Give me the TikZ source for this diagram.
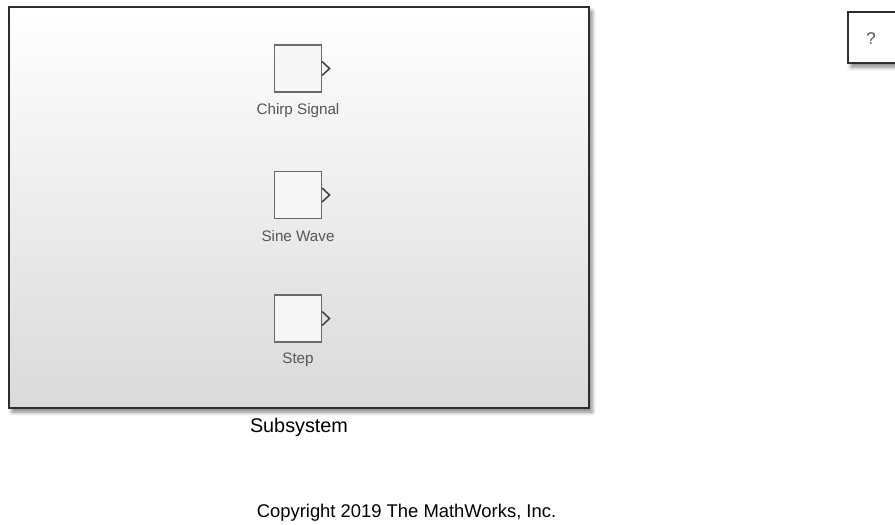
\documentclass[tikz,border=0pt]{standalone}
\usepackage{fontspec}
\setmainfont{Liberation Sans}
\usepackage{xcolor}
\usepackage{tikz}
\usetikzlibrary{shadows.blur}
\definecolor{cFrame}{RGB}{45,45,45}
\definecolor{cBlock}{RGB}{105,105,105}
\definecolor{cPort}{RGB}{70,70,70}
\definecolor{cLabel}{RGB}{85,85,85}
\definecolor{cBottom}{RGB}{218,218,218}

\begin{document}
\begin{tikzpicture}[x=1pt,y=-1pt,font=\fontsize{18.4}{21}\selectfont,
  blk/.style={draw=cBlock,line width=1.1pt,fill=white!97!black,minimum size=47pt,inner sep=0pt},
  lbl/.style={text=cLabel,font=\fontsize{15.2}{17}\selectfont,anchor=base,inner sep=0pt},
  shd/.style={blur shadow={shadow xshift=3pt,shadow yshift=-4pt,shadow blur radius=4pt,shadow opacity=50}}]
\useasboundingbox (0,0) rectangle (895,525);
% subsystem frame
\node[draw=cFrame,line width=2pt,top color=white,bottom color=cBottom,shd,
  minimum width=580pt,minimum height=401pt,inner sep=0pt] (subsys) at (299,207.5) {};
\node[anchor=base,inner sep=0pt,font=\fontsize{19.8}{22}\selectfont] (subsyslbl) at ([yshift=-23pt]subsys.south) {Subsystem};
% source blocks
\node[blk] (chirp) at (298,68.5) {};
\node[blk] (sine) at (298,195) {};
\node[blk] (step1) at (298,318.5) {};
\foreach \b in {chirp,sine,step1}
  \draw[cPort,line width=1.6pt] ([yshift=7pt]\b.east) -- ++(7.5,7) -- ++(-7.5,7);
\node[lbl] (chirplbl) at ([yshift=-22pt]chirp.south) {Chirp Signal};
\node[lbl] (sinelbl) at ([yshift=-22pt]sine.south) {Sine Wave};
\node[lbl] (steplbl) at ([yshift=-21pt]step1.south) {Step};
% info block
\node[draw=cFrame,line width=1.6pt,fill=white,shd,minimum width=60pt,minimum height=51pt,
  inner sep=0pt] (info) at (878,37.5) {};
\node[anchor=base,inner sep=0pt,text=cLabel,font=\fontsize{17}{19}\selectfont] (infolbl) at (871,44) {?};
\node[anchor=base,inner sep=0pt] (copy) at (406.5,517) {Copyright 2019 The MathWorks, Inc.};
\end{tikzpicture}
\end{document}
